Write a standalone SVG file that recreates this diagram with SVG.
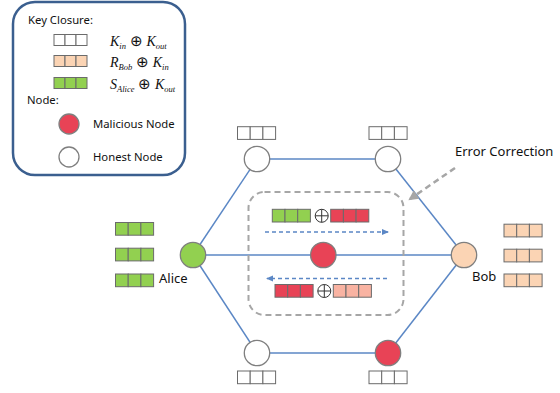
<svg xmlns="http://www.w3.org/2000/svg" width="560" height="393" viewBox="0 0 560 393">
<defs>
<style>
.txt{font-family:"Noto Sans","Liberation Sans",sans-serif;font-size:11.3px;fill:#111}
.big{font-size:13px}
.math{font-family:"Liberation Serif",serif;font-style:italic;font-size:14px;fill:#111}
.sub{font-size:8.5px;fill:#111}
.op{font-style:normal;font-size:15px;fill:#111}
.edge{stroke:#5b87c5;stroke-width:1.5;fill:none}
.cell{stroke:#6b6b6b;stroke-width:1}
.w{fill:#fff}.g{fill:#92d050}.p{fill:#fbd4b4}.r{fill:#e84356}.s{fill:#f9b3a2}
.node{stroke:#7f7f7f;stroke-width:1.3}
.dash{stroke:#5b87c5;stroke-width:1.3;stroke-dasharray:4,3;fill:none}
</style>
<marker id="ab" markerWidth="8" markerHeight="8" refX="6" refY="3" orient="auto" markerUnits="userSpaceOnUse">
<path d="M0,0 L7,3 L0,6 Z" fill="#5b87c5"/>
</marker>
<marker id="ag" markerWidth="12" markerHeight="12" refX="8" refY="5" orient="auto" markerUnits="userSpaceOnUse">
<path d="M0,0 L10,5 L0,10 Z" fill="#a6a6a6"/>
</marker>
<g id="tri">
<rect x="0" y="0" width="12.7" height="12.7"/>
<rect x="12.7" y="0" width="12.7" height="12.7"/>
<rect x="25.4" y="0" width="12.7" height="12.7"/>
</g>
<g id="triS">
<rect x="0" y="0" width="11" height="11"/>
<rect x="11" y="0" width="11" height="11"/>
<rect x="22" y="0" width="11" height="11"/>
</g>
</defs>
<rect width="560" height="393" fill="#fff"/>

<g id="legend">
<rect x="13" y="2" width="172" height="173" rx="22" fill="#fff" stroke="#3b5f8f" stroke-width="2.5"/>
<text class="txt" x="28" y="24">Key Closure:</text>
<use href="#triS" x="54" y="34.5" class="cell w"/>
<use href="#triS" x="54" y="55.5" class="cell p"/>
<use href="#triS" x="54" y="77.5" class="cell g"/>
<text class="math" x="110" y="45.5">K<tspan class="sub" dy="3">in</tspan><tspan class="op" dy="-3"> ⊕ </tspan>K<tspan class="sub" dy="3">out</tspan></text>
<text class="math" x="110" y="67">R<tspan class="sub" dy="3">Bob</tspan><tspan class="op" dy="-3"> ⊕ </tspan>K<tspan class="sub" dy="3">in</tspan></text>
<text class="math" x="110" y="88.5">S<tspan class="sub" dy="3">Alice</tspan><tspan class="op" dy="-3"> ⊕ </tspan>K<tspan class="sub" dy="3">out</tspan></text>
<text class="txt" x="27" y="104">Node:</text>
<circle cx="69" cy="124" r="10" class="node r"/>
<text class="txt" x="93" y="128">Malicious Node</text>
<circle cx="69" cy="157" r="10" class="node w"/>
<text class="txt" x="93" y="161">Honest Node</text>
</g>

<g id="connectors">
<line class="edge" x1="257" y1="159" x2="388" y2="159"/>
<line class="edge" x1="257" y1="159" x2="193" y2="255"/>
<line class="edge" x1="388" y1="159" x2="464" y2="255"/>
<line class="edge" x1="193" y1="255" x2="257" y2="353"/>
<line class="edge" x1="464" y1="255" x2="388" y2="353"/>
<line class="edge" x1="257" y1="353" x2="388" y2="353"/>
<line class="edge" x1="193" y1="255" x2="464" y2="255"/>
<line class="dash" x1="265" y1="232" x2="388" y2="232" marker-end="url(#ab)"/>
<line class="dash" x1="387" y1="278.5" x2="267" y2="278.5" marker-end="url(#ab)"/>
<line x1="455" y1="168" x2="410" y2="199" stroke="#a6a6a6" stroke-width="2.5" stroke-dasharray="6,4" marker-end="url(#ag)"/>
</g>

<g id="error-box">
<rect x="248.5" y="192" width="155" height="123" rx="16" fill="none" stroke="#a6a6a6" stroke-width="2" stroke-dasharray="6,4"/>
<text class="txt big" x="455" y="156">Error Correction</text>
</g>

<g id="node-top-left">
<use href="#tri" x="237.5" y="126.7" class="cell w"/>
<circle cx="257" cy="159" r="12.7" class="node w"/>
</g>
<g id="node-top-right">
<use href="#tri" x="369" y="126.7" class="cell w"/>
<circle cx="388" cy="159" r="12.7" class="node w"/>
</g>
<g id="node-bottom-left">
<circle cx="257" cy="353" r="12.7" class="node w"/>
<use href="#tri" x="237.5" y="371" class="cell w"/>
</g>
<g id="node-bottom-right">
<circle cx="388" cy="353" r="12.7" class="node r"/>
<use href="#tri" x="369" y="371" class="cell w"/>
</g>
<g id="node-alice">
<use href="#tri" x="115.5" y="222.5" class="cell g"/>
<use href="#tri" x="115.5" y="248.2" class="cell g"/>
<use href="#tri" x="115.5" y="274" class="cell g"/>
<circle cx="193" cy="255" r="12.7" class="node g"/>
<text class="txt big" x="159" y="283">Alice</text>
</g>
<g id="node-bob">
<use href="#tri" x="504" y="224.2" class="cell p"/>
<use href="#tri" x="504" y="249.2" class="cell p"/>
<use href="#tri" x="504" y="274" class="cell p"/>
<circle cx="464" cy="255" r="12.7" class="node p"/>
<text class="txt big" x="472" y="281">Bob</text>
</g>
<g id="node-malicious-center">
<use href="#tri" x="272.3" y="209.3" class="cell g"/>
<circle cx="321.7" cy="215.8" r="6.5" fill="#fff" stroke="#333" stroke-width="1"/>
<path d="M315.2,215.8 H328.2 M321.7,209.3 V222.3" stroke="#333" stroke-width="1"/>
<use href="#tri" x="330.7" y="209.3" class="cell r"/>
<circle cx="323.3" cy="255" r="12.7" class="node r"/>
<use href="#tri" x="275" y="284.5" class="cell r"/>
<circle cx="324.3" cy="291" r="6.5" fill="#fff" stroke="#333" stroke-width="1"/>
<path d="M317.8,291 H330.8 M324.3,284.5 V297.5" stroke="#333" stroke-width="1"/>
<use href="#tri" x="333.3" y="284.5" class="cell s"/>
</g>
</svg>
